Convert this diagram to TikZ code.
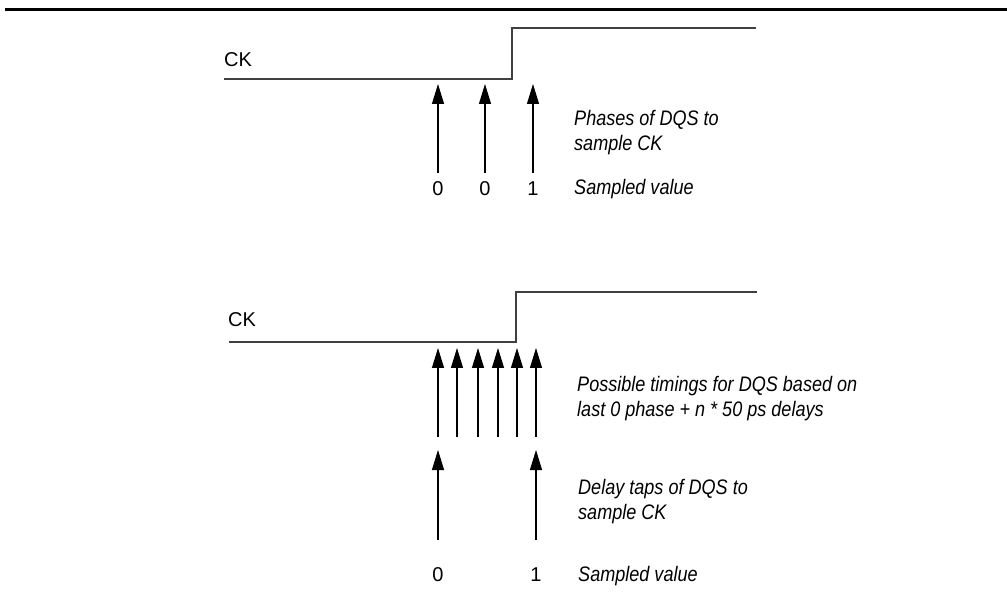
\documentclass[tikz,border=0pt]{standalone}
\usepackage{fontspec}
\setmainfont{Liberation Sans}
\newfontfamily\narrowfont{Liberation Sans}[FakeStretch=0.86]
\usetikzlibrary{arrows.meta,positioning}

\begin{document}
\begin{tikzpicture}[x=1pt,y=-1pt,
  lbl/.style={font=\fontsize{20}{25}\selectfont,inner sep=0pt},
  note/.style={font=\narrowfont\fontsize{21}{25}\selectfont\itshape,inner sep=0pt,align=left,anchor=base west},
  sig/.style={line width=1.5pt,black!75},
  tap/.style={-{Triangle[length=20pt,width=12pt]},line width=1.2pt}]
  \useasboundingbox (0,0) rectangle (1007,601);
  % Rule
  \coordinate (rl) at (5,10);
  \coordinate (rr) at (1007,10);
  \draw[line width=3pt] (rl) -- (rr);
  % Upper: phases of DQS
  \node[lbl,anchor=base west] (ck1) at (224,67) {CK};
  \coordinate (lo1) at (224,79);
  \coordinate (hi1) at (756,28);
  \draw[sig] (lo1) -- (512,79) |- (hi1);
  \foreach \x/\v [count=\i] in {438/0,485/0,533/1} {
    \coordinate (pa\i) at (\x,173);
    \coordinate (pb\i) at (\x,84);
    \draw[tap] (pa\i) -- (pb\i);
    \node[lbl,anchor=base] (pv\i) at (\x,196) {\v};
  }
  \node[note] (phs) at (574,151) {Phases of DQS to\\sample CK};
  \node[note] (smp1) at (574,195) {Sampled value};
  % Lower: delay taps
  \node[lbl,anchor=base west] (ck2) at (228,327) {CK};
  \coordinate (lo2) at (229,342);
  \coordinate (hi2) at (757,292);
  \draw[sig] (lo2) -- (516,342) |- (hi2);
  \foreach \x [count=\i] in {438,457,478,498,517,536} {
    \coordinate (ta\i) at (\x,437);
    \coordinate (tb\i) at (\x,348);
    \draw[tap] (ta\i) -- (tb\i);
  }
  \node[note] (pos) at (577,417) {Possible timings for DQS based on\\last 0 phase + \textit{n} * 50 ps delays};
  \foreach \x/\v [count=\i] in {438/0,536/1} {
    \coordinate (da\i) at (\x,540);
    \coordinate (db\i) at (\x,450);
    \draw[tap] (da\i) -- (db\i);
    \node[lbl,anchor=base] (dv\i) at (\x,581) {\v};
  }
  \node[note] (dly) at (578,519) {Delay taps of DQS to\\sample CK};
  \node[note] (smp2) at (578,581) {Sampled value};
\end{tikzpicture}
\end{document}
